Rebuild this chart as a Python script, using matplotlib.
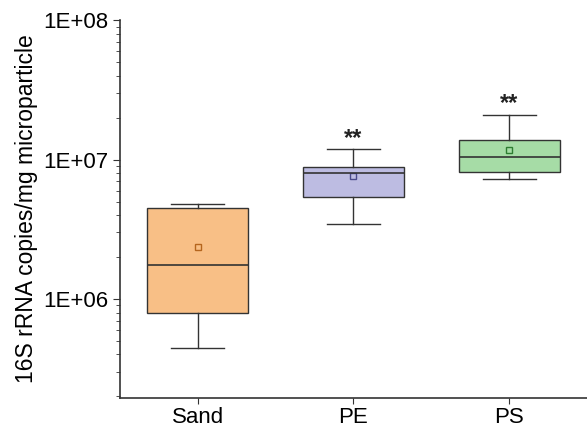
import matplotlib
matplotlib.use("Agg")
import matplotlib.pyplot as plt
from matplotlib.ticker import LogLocator, NullFormatter, FixedLocator

plt.rcParams["font.family"] = ["Liberation Sans", "DejaVu Sans"]

categories = ["Sand", "PE", "PS"]
whislo = [4.43e5, 3.47e6, 7.26e6]
q1 = [7.9e5, 5.42e6, 8.2e6]
med = [1.76e6, 7.95e6, 1.04e7]
q3 = [4.47e6, 8.87e6, 1.38e7]
whishi = [4.78e6, 1.19e7, 2.1e7]
means = [2.37e6, 7.6e6, 1.18e7]
signif = ["", "**", "**"]
y_ticks = [1e6, 1e7, 1e8]
y_ticklabels = ["1E+06", "1E+07", "1E+08"]

face_colors = ["#F8BF86", "#BDBCE2", "#A6DCA6"]
mean_colors = ["#B5651D", "#4A4A8A", "#2E7D32"]

fig = plt.figure(figsize=(5.87, 4.29), dpi=100)
ax = fig.add_axes([0.2044, 0.0723, 0.7956, 0.8807])

stats = []
for i, c in enumerate(categories):
    stats.append(dict(label=c, whislo=whislo[i], q1=q1[i], med=med[i],
                      q3=q3[i], whishi=whishi[i], mean=means[i], fliers=[]))

positions = [1, 2, 3]
bp = ax.bxp(stats, positions=positions, widths=0.65, patch_artist=True,
            showmeans=False, showfliers=False,
            boxprops=dict(edgecolor="#333333", linewidth=1.0),
            medianprops=dict(color="#333333", linewidth=1.2),
            whiskerprops=dict(color="#333333", linewidth=1.0),
            capprops=dict(color="#333333", linewidth=1.0),
            capwidths=0.34)
for patch, fc in zip(bp["boxes"], face_colors):
    patch.set_facecolor(fc)

for x, m, mc in zip(positions, means, mean_colors):
    ax.plot([x], [m], marker="s", markersize=4, markerfacecolor="none",
            markeredgecolor=mc, markeredgewidth=1.0, linestyle="none")

for x, hi, s in zip(positions, whishi, signif):
    if s:
        ax.annotate(s, (x, hi), xytext=(0, 3), textcoords="offset points",
                    ha="center", va="baseline", fontsize=17,
                    fontweight="bold", color="#222222")

ax.set_yscale("log")
ax.set_ylim(1.95e5, 1.0e8)
ax.set_xlim(0.5, 3.5)
ax.yaxis.set_major_locator(FixedLocator(y_ticks))
ax.set_yticklabels(y_ticklabels)
ax.yaxis.set_minor_locator(LogLocator(base=10, subs=range(2, 10)))
ax.yaxis.set_minor_formatter(NullFormatter())
ax.set_xticks(positions)
ax.set_xticklabels(categories)

for side in ["top", "right"]:
    ax.spines[side].set_visible(False)
for side in ["left", "bottom"]:
    ax.spines[side].set_color("#333333")
    ax.spines[side].set_linewidth(1.2)

ax.tick_params(axis="y", which="major", direction="out", length=5,
               labelsize=16, color="#333333", pad=3)
ax.tick_params(axis="y", which="minor", direction="out", length=3,
               color="#333333")
ax.tick_params(axis="x", which="major", direction="out", length=4,
               labelsize=16, color="#333333", pad=2.5)

ax.set_ylabel("16S rRNA copies/mg microparticle", fontsize=16.5, labelpad=4)

fig.savefig("out.png", dpi=100)
